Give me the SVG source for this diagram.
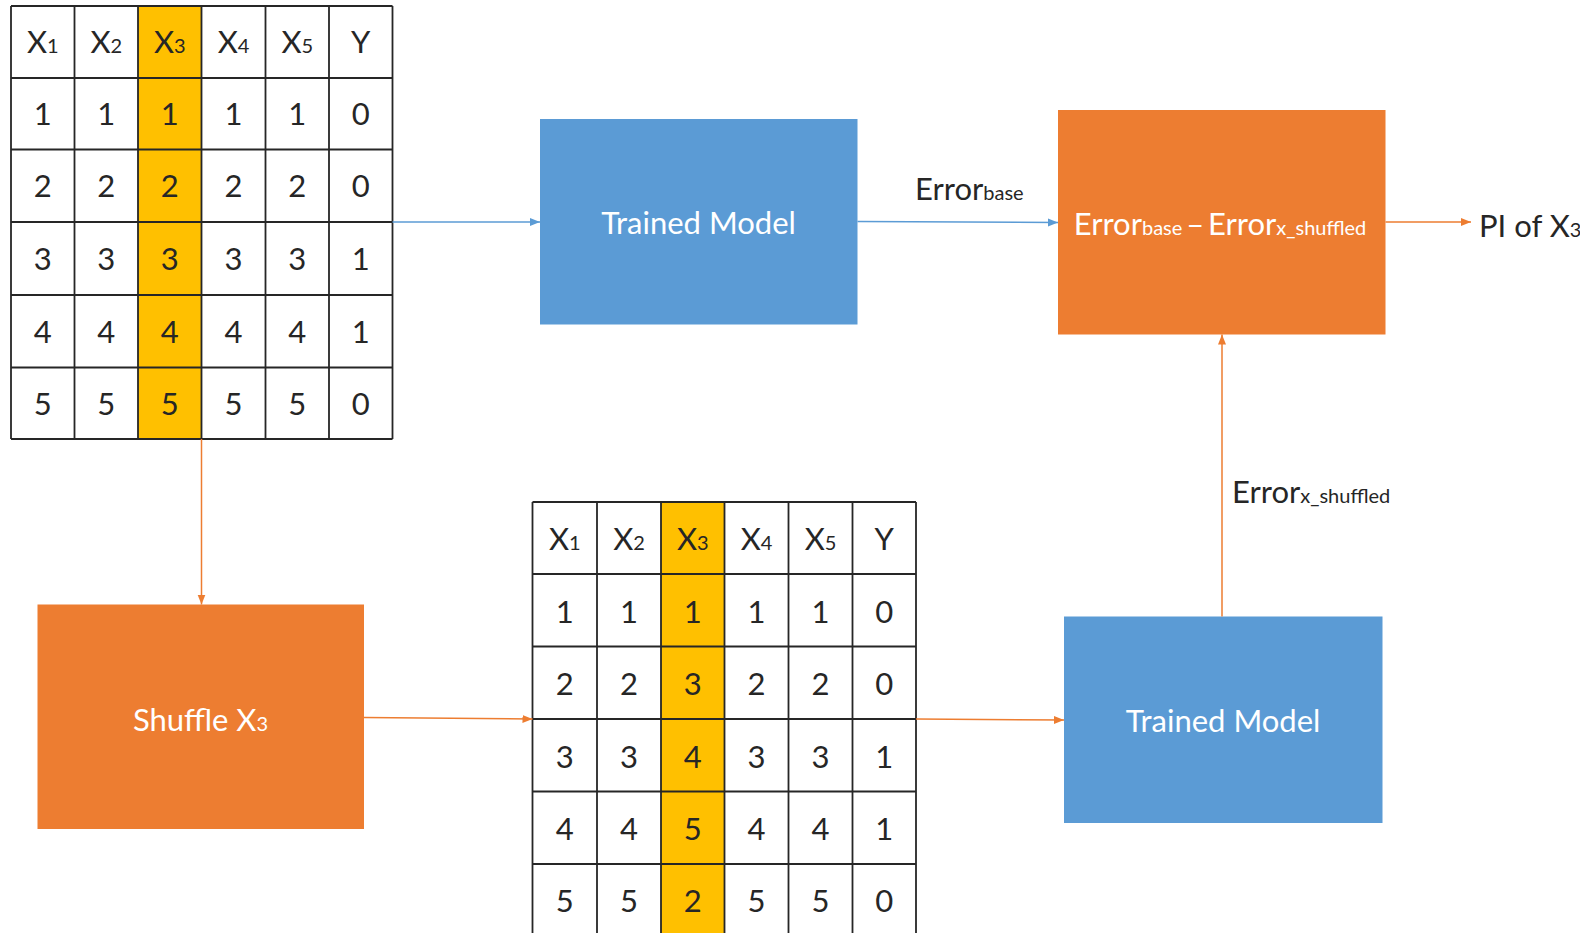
<svg xmlns="http://www.w3.org/2000/svg" width="1580" height="933" viewBox="0 0 1580 933">
<style>
.t{font-family:Lato,"Open Sans","Liberation Sans",sans-serif;font-size:31px;fill:#262626;text-anchor:middle}
.l{text-anchor:start}
.w{fill:#ffffff}
.sub{font-size:20px}
.bg{fill:#ffffff}
.hl{fill:#FFC000}
.grid{stroke:#262626;stroke-width:1.8;fill:none}
.blue{fill:#5B9BD5}
.orange{fill:#ED7D31}
.cb{stroke:#5B9BD5;stroke-width:1.5;fill:none}
.co{stroke:#ED7D31;stroke-width:1.5;fill:none}
</style>
<defs>
<marker id="ab" markerUnits="userSpaceOnUse" markerWidth="11" markerHeight="10" refX="10" refY="5" orient="auto"><path d="M0,1 L10,5 L0,9 z" fill="#5B9BD5"/></marker>
<marker id="ao" markerUnits="userSpaceOnUse" markerWidth="11" markerHeight="10" refX="10" refY="5" orient="auto"><path d="M0,1 L10,5 L0,9 z" fill="#ED7D31"/></marker>
</defs>
<rect width="1580" height="933" fill="#ffffff"/>

<g id="table-original">
<rect class="bg" x="11" y="6" width="381.5" height="433"/>
<rect class="hl" x="138" y="6" width="63.5" height="433"/>
<path class="grid" d="M11,6 H392.5 M11,78 H392.5 M11,149.5 H392.5 M11,222 H392.5 M11,295 H392.5 M11,367.5 H392.5 M11,439 H392.5 M11,6 V439 M74.5,6 V439 M138,6 V439 M201.5,6 V439 M265.5,6 V439 M329,6 V439 M392.5,6 V439"/>
<text class="t" x="42.75" y="53">X<tspan class="sub">1</tspan></text>
<text class="t" x="106.25" y="53">X<tspan class="sub">2</tspan></text>
<text class="t" x="169.75" y="53">X<tspan class="sub">3</tspan></text>
<text class="t" x="233.5" y="53">X<tspan class="sub">4</tspan></text>
<text class="t" x="297.25" y="53">X<tspan class="sub">5</tspan></text>
<text class="t" x="360.75" y="53">Y</text>
<text class="t" x="42.75" y="125">1</text><text class="t" x="106.25" y="125">1</text><text class="t" x="169.75" y="125">1</text><text class="t" x="233.5" y="125">1</text><text class="t" x="297.25" y="125">1</text><text class="t" x="360.75" y="125">0</text>
<text class="t" x="42.75" y="197">2</text><text class="t" x="106.25" y="197">2</text><text class="t" x="169.75" y="197">2</text><text class="t" x="233.5" y="197">2</text><text class="t" x="297.25" y="197">2</text><text class="t" x="360.75" y="197">0</text>
<text class="t" x="42.75" y="270">3</text><text class="t" x="106.25" y="270">3</text><text class="t" x="169.75" y="270">3</text><text class="t" x="233.5" y="270">3</text><text class="t" x="297.25" y="270">3</text><text class="t" x="360.75" y="270">1</text>
<text class="t" x="42.75" y="342.5">4</text><text class="t" x="106.25" y="342.5">4</text><text class="t" x="169.75" y="342.5">4</text><text class="t" x="233.5" y="342.5">4</text><text class="t" x="297.25" y="342.5">4</text><text class="t" x="360.75" y="342.5">1</text>
<text class="t" x="42.75" y="414.5">5</text><text class="t" x="106.25" y="414.5">5</text><text class="t" x="169.75" y="414.5">5</text><text class="t" x="233.5" y="414.5">5</text><text class="t" x="297.25" y="414.5">5</text><text class="t" x="360.75" y="414.5">0</text>
</g>

<g id="table-shuffled">
<rect class="bg" x="532.5" y="502" width="383.5" height="434"/>
<rect class="hl" x="661" y="502" width="63.5" height="434"/>
<path class="grid" d="M532.5,502 H916 M532.5,574 H916 M532.5,646.5 H916 M532.5,719 H916 M532.5,791.5 H916 M532.5,864 H916 M532.5,936 H916 M532.5,502 V936 M597,502 V936 M661,502 V936 M724.5,502 V936 M788.5,502 V936 M852.5,502 V936 M916,502 V936"/>
<text class="t" x="564.75" y="550">X<tspan class="sub">1</tspan></text>
<text class="t" x="629" y="550">X<tspan class="sub">2</tspan></text>
<text class="t" x="692.75" y="550">X<tspan class="sub">3</tspan></text>
<text class="t" x="756.5" y="550">X<tspan class="sub">4</tspan></text>
<text class="t" x="820.5" y="550">X<tspan class="sub">5</tspan></text>
<text class="t" x="884.25" y="550">Y</text>
<text class="t" x="564.75" y="622.5">1</text><text class="t" x="629" y="622.5">1</text><text class="t" x="692.75" y="622.5">1</text><text class="t" x="756.5" y="622.5">1</text><text class="t" x="820.5" y="622.5">1</text><text class="t" x="884.25" y="622.5">0</text>
<text class="t" x="564.75" y="695">2</text><text class="t" x="629" y="695">2</text><text class="t" x="692.75" y="695">3</text><text class="t" x="756.5" y="695">2</text><text class="t" x="820.5" y="695">2</text><text class="t" x="884.25" y="695">0</text>
<text class="t" x="564.75" y="767.5">3</text><text class="t" x="629" y="767.5">3</text><text class="t" x="692.75" y="767.5">4</text><text class="t" x="756.5" y="767.5">3</text><text class="t" x="820.5" y="767.5">3</text><text class="t" x="884.25" y="767.5">1</text>
<text class="t" x="564.75" y="840">4</text><text class="t" x="629" y="840">4</text><text class="t" x="692.75" y="840">5</text><text class="t" x="756.5" y="840">4</text><text class="t" x="820.5" y="840">4</text><text class="t" x="884.25" y="840">1</text>
<text class="t" x="564.75" y="912">5</text><text class="t" x="629" y="912">5</text><text class="t" x="692.75" y="912">2</text><text class="t" x="756.5" y="912">5</text><text class="t" x="820.5" y="912">5</text><text class="t" x="884.25" y="912">0</text>
</g>

<g id="trained-model-1">
<rect class="blue" x="540" y="119" width="317.5" height="205.5"/>
<text class="t w" x="698.5" y="233.5">Trained Model</text>
</g>

<g id="error-diff">
<rect class="orange" x="1058" y="110" width="327.5" height="224.5"/>
<text class="t w" x="1220" y="235">Error<tspan class="sub">base</tspan>&#8201;–&#8201;Error<tspan class="sub">x_shuffled</tspan></text>
</g>

<g id="shuffle">
<rect class="orange" x="37.5" y="604.5" width="326.5" height="224.5"/>
<text class="t w" x="200.5" y="731">Shuffle X<tspan class="sub">3</tspan></text>
</g>

<g id="trained-model-2">
<rect class="blue" x="1064" y="616.5" width="318.5" height="206.5"/>
<text class="t w" x="1223" y="732">Trained Model</text>
</g>

<g id="pi-output">
<text class="t l" x="1479" y="236.5">PI of X<tspan class="sub">3</tspan></text>
</g>

<g id="connectors">
<line class="cb" x1="392.5" y1="222" x2="540" y2="222" marker-end="url(#ab)"/>
<line class="cb" x1="857.5" y1="221.5" x2="1058" y2="222.5" marker-end="url(#ab)"/>
<line class="co" x1="1385.5" y1="222" x2="1471" y2="222" marker-end="url(#ao)"/>
<line class="co" x1="1222" y1="616.5" x2="1222" y2="334.5" marker-end="url(#ao)"/>
<line class="co" x1="201.5" y1="439" x2="201.5" y2="604.5" marker-end="url(#ao)"/>
<line class="co" x1="364" y1="717.5" x2="532.5" y2="719" marker-end="url(#ao)"/>
<line class="co" x1="916" y1="719" x2="1064" y2="720" marker-end="url(#ao)"/>
<text class="t l" x="915" y="199.5">Error<tspan class="sub">base</tspan></text>
<text class="t l" x="1232" y="503">Error<tspan class="sub">x_shuffled</tspan></text>
</g>
</svg>
